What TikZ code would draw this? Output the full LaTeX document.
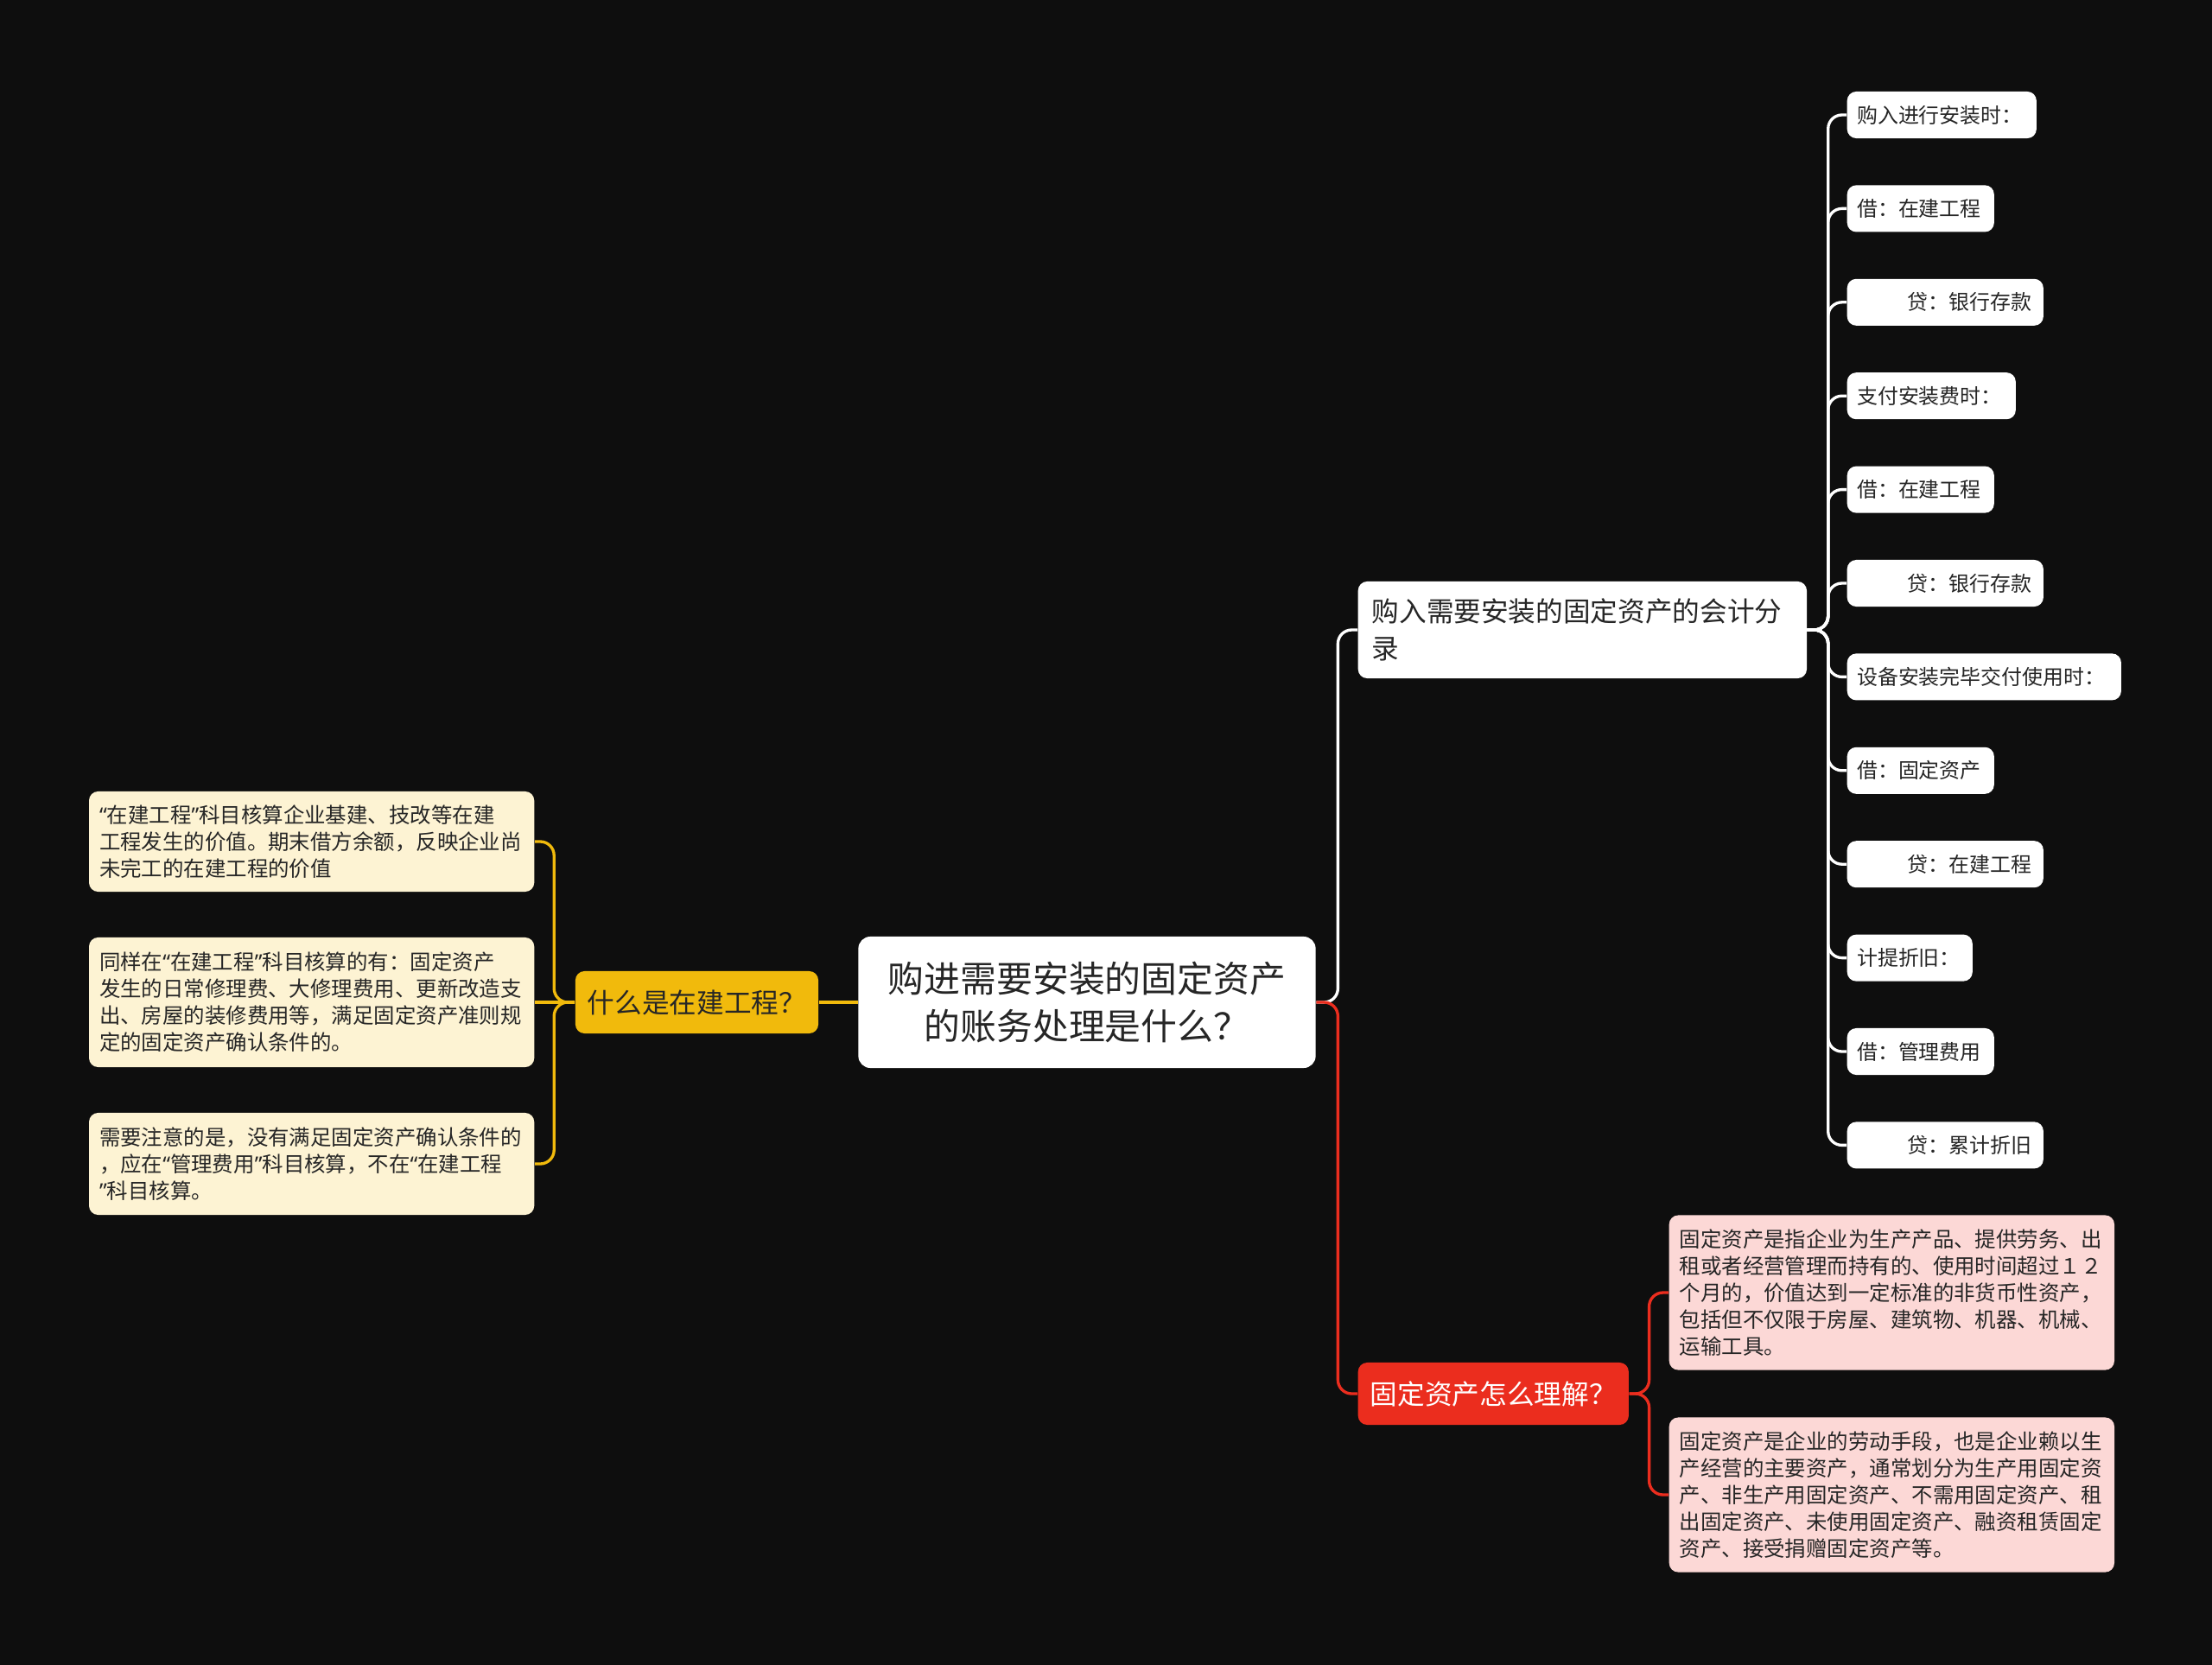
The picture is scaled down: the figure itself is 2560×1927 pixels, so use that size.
\documentclass[tikz,border=0pt]{standalone}
\usepackage{fontspec}
\setmainfont{Noto Sans CJK SC}
\newfontfamily\comillas{Noto Sans}
\definecolor{fondo}{RGB}{14,14,14}
\definecolor{tinta}{RGB}{38,38,38}
\definecolor{amarillo}{RGB}{241,186,12}
\definecolor{crema}{RGB}{253,243,211}
\definecolor{rojo}{RGB}{235,45,30}
\definecolor{rosa}{RGB}{252,216,214}
\newcommand\sangria{\hspace*{2.45em}}
\newcommand\abre{{\comillas “}}
\newcommand\cierra{{\comillas ”}}
\begin{document}
\begin{tikzpicture}[x=0.01cm, y=-0.01cm,
    caja/.style={rounded corners=3pt, inner sep=0pt, text=tinta},
    hoja/.style={caja, fill=white, anchor=west, align=left, inner xsep=0.115cm,
      minimum height=0.54cm, font=\fontsize{6.8pt}{8.2pt}\selectfont},
    nota/.style={caja, fill=#1, align=left, text width=4.91cm, inner xsep=0.12cm,
      font=\fontsize{6.95pt}{8.85pt}\selectfont},
    rama/.style={caja, fill=#1, minimum height=0.72cm, font=\fontsize{9pt}{12.1pt}\selectfont},
    enlace/.style={draw=#1, line width=0.95pt, rounded corners=0.16cm}]
    % Fondo
    \fill[fondo] (0,0) rectangle (2560,1927);
    % Nodo central
    \node[caja, fill=white, minimum width=5.29cm, minimum height=1.52cm, align=center,
      rounded corners=4pt, font=\fontsize{11.9pt}{15.8pt}\selectfont] (raiz) at (1258,1160)
      {购进需要安装的固定资产\\的账务处理是什么？};
    % Rama amarilla y sus notas
    \node[rama=amarillo, minimum width=2.81cm] (obra) at (806.5,1160) {什么是在建工程？};
    \node[nota=crema, minimum height=1.16cm, anchor=east] (d1) at (619,974)
      {\abre 在建工程\cierra 科目核算企业基建、技改等在建\\工程发生的价值。期末借方余额，反映企业尚\\未完工的在建工程的价值};
    \node[nota=crema, minimum height=1.50cm, anchor=east] (d2) at (619,1160)
      {同样在\abre 在建工程\cierra 科目核算的有：固定资产\\发生的日常修理费、大修理费用、更新改造支\\出、房屋的装修费用等，满足固定资产准则规\\定的固定资产确认条件的。};
    \node[nota=crema, minimum height=1.18cm, anchor=east] (d3) at (619,1347)
      {需要注意的是，没有满足固定资产确认条件的\\，应在\abre 管理费用\cierra 科目核算，不在\abre 在建工程\\\cierra 科目核算。};
    % Rama blanca con los asientos
    \node[rama=white, anchor=west, minimum height=1.12cm, align=left, text width=4.87cm,
      inner xsep=0.16cm] (asiento) at (1571,729) {购入需要安装的固定资产的会计分\\录};
    \foreach \texto/\ancho [count=\i] in {购入进行安装时：/1.96, 借：在建工程/1.47, \sangria 贷：银行存款/2.04,
        支付安装费时：/1.72, 借：在建工程/1.47, \sangria 贷：银行存款/2.04,
        设备安装完毕交付使用时：/2.94, 借：固定资产/1.47, \sangria 贷：在建工程/2.04,
        计提折旧：/1.22, 借：管理费用/1.47, \sangria 贷：累计折旧/2.04} {
      \node[hoja, text width=\ancho cm] (l\i) at (2137,{133+(\i-1)*108.4}) {\texto};
    }
    % Rama roja y sus notas
    \node[rama=rojo, text=white, minimum width=3.13cm, anchor=west] (activo) at (1571,1613) {固定资产怎么理解？};
    \node[nota=rosa, minimum height=1.79cm, anchor=west] (r1) at (1931,1496)
      {固定资产是指企业为生产产品、提供劳务、出\\租或者经营管理而持有的、使用时间超过１２\\个月的，价值达到一定标准的非货币性资产，\\包括但不仅限于房屋、建筑物、机器、机械、\\运输工具。};
    \node[nota=rosa, minimum height=1.79cm, anchor=west] (r2) at (1931,1730)
      {固定资产是企业的劳动手段，也是企业赖以生\\产经营的主要资产，通常划分为生产用固定资\\产、非生产用固定资产、不需用固定资产、租\\出固定资产、未使用固定资产、融资租赁固定\\资产、接受捐赠固定资产等。};
    % Enlaces
    \draw[enlace=amarillo] (raiz.west) -- (obra.east);
    \draw[enlace=amarillo] (obra.west) -- (d2.east);
    \foreach \n in {d1,d3} \draw[enlace=amarillo] (obra.west) -- ++(-24,0) |- (\n.east);
    \draw[enlace=white] (raiz.east) -- ++(25,0) |- (asiento.west);
    \draw[enlace=rojo] (raiz.east) -- ++(25,0) |- (activo.west);
    \foreach \i in {1,...,12} \draw[enlace=white] (asiento.east) -- ++(24,0) |- (l\i.west);
    \foreach \n in {r1,r2} \draw[enlace=rojo] (activo.east) -- ++(23,0) |- (\n.west);
\end{tikzpicture}
\end{document}
